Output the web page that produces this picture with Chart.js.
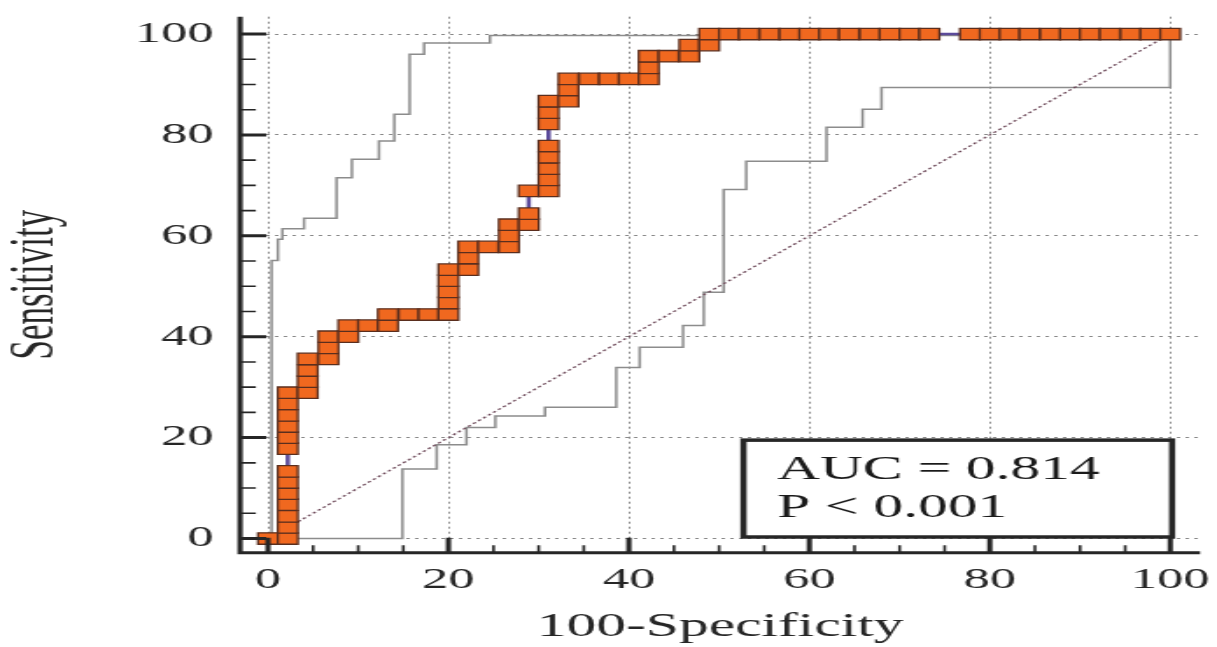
<!DOCTYPE html>
<html>
<head>
<meta charset="utf-8">
<script src="https://cdn.jsdelivr.net/npm/chart.js@4.4.1/dist/chart.umd.min.js"></script>
<style>
    html, body { margin: 0; padding: 0; background: #fff; overflow: hidden; }
    /* the source picture is stretched sideways, so the whole chart is too */
    #wrap { width: 695px; height: 647px; transform: scaleX(1.7511); transform-origin: 0 0; }
</style>
</head>
<body>
<div id="wrap"><canvas id="roc" width="695" height="647"></canvas></div>
<script>
const X_TICKS = [0, 20, 40, 60, 80, 100];
const Y_TICKS = [0, 20, 40, 60, 80, 100];

// ROC curve (100-Specificity, Sensitivity)
const ROC_X = [0, 2.2, 2.2, 2.2, 2.2, 2.2, 2.2, 2.2, 2.2, 2.2, 2.2, 2.2, 2.2, 2.2,
    4.4, 4.4, 4.4, 4.4, 6.7, 6.7, 6.7, 8.9, 8.9, 11.1, 13.3, 13.3, 15.6, 17.8,
    20.0, 20.0, 20.0, 20.0, 20.0, 22.2, 22.2, 22.2, 24.4, 26.7, 26.7, 26.7, 28.9, 28.9, 28.9,
    31.1, 31.1, 31.1, 31.1, 31.1, 31.1, 31.1, 31.1, 33.3, 33.3, 33.3, 35.6, 37.8, 40.0,
    42.2, 42.2, 42.2, 44.4, 46.7, 46.7, 48.9, 48.9,
    51.1, 53.3, 55.6, 57.8, 60.0, 62.2, 64.4, 66.7, 68.9, 71.1, 73.3,
    77.8, 80.0, 82.2, 84.4, 86.7, 88.9, 91.1, 93.3, 95.6, 97.8, 100];
const ROC_Y = [0, 0, 2.2, 4.4, 6.7, 8.9, 11.1, 13.3, 17.8, 20.0, 22.2, 24.4, 26.7, 28.9,
    28.9, 31.1, 33.3, 35.6, 35.6, 37.8, 40.0, 40.0, 42.2, 42.2, 42.2, 44.4, 44.4, 44.4,
    44.4, 46.7, 48.9, 51.1, 53.3, 53.3, 55.6, 57.8, 57.8, 57.8, 60.0, 62.2, 62.2, 64.4, 68.9,
    68.9, 71.1, 73.3, 75.6, 77.8, 82.2, 84.4, 86.7, 86.7, 88.9, 91.1, 91.1, 91.1, 91.1,
    91.1, 93.3, 95.6, 95.6, 95.6, 97.8, 97.8, 100,
    100, 100, 100, 100, 100, 100, 100, 100, 100, 100, 100,
    100, 100, 100, 100, 100, 100, 100, 100, 100, 100, 100];

// confidence bounds
const UPPER_X = [0.4, 0.4, 1.1, 1.1, 1.6, 1.6, 4.0, 4.0, 7.6, 7.6, 9.3, 9.3, 12.3, 12.3,
    14.0, 14.0, 15.7, 15.7, 17.3, 17.3, 24.6, 24.6, 100];
const UPPER_Y = [0, 55.1, 55.1, 59.3, 59.3, 61.4, 61.4, 63.5, 63.5, 71.5, 71.5, 75.2, 75.2, 78.8,
    78.8, 84.1, 84.1, 96.0, 96.0, 98.2, 98.2, 99.7, 99.7];
const LOWER_X = [0, 14.9, 14.9, 18.7, 18.7, 22.0, 22.0, 25.2, 25.2, 30.7, 30.7, 38.6, 38.6,
    41.2, 41.2, 46.0, 46.0, 48.3, 48.3, 50.5, 50.5, 53.0, 53.0, 61.9, 61.9, 65.9, 65.9,
    68.0, 68.0, 100, 100];
const LOWER_Y = [0, 0, 13.8, 13.8, 18.6, 18.6, 22.0, 22.0, 24.3, 24.3, 26.0, 26.0, 33.9,
    33.9, 37.9, 37.9, 42.2, 42.2, 48.8, 48.8, 69.2, 69.2, 74.8, 74.8, 81.5, 81.5, 85.1,
    85.1, 89.4, 89.4, 100];

const DIAG_X = [0, 100];
const DIAG_Y = [0, 100];

const STATS = ['AUC = 0.814', 'P < 0.001'];

const SERIF = "'Liberation Serif', 'Times New Roman', serif";
const INK = '#262626';

function points(xs, ys) {
    return xs.map((x, i) => ({ x: x, y: ys[i] }));
}

// inward tick marks, axis lines and the AUC box
const rocFrame = {
    id: 'rocFrame',
    afterDatasetsDraw(chart) {
        const { ctx, scales: { x, y } } = chart;
        const l = x.getPixelForValue(52.7), r = x.getPixelForValue(100.2);
        const t = y.getPixelForValue(19.5), b = y.getPixelForValue(0.3);
        ctx.save();
        ctx.fillStyle = '#fff';
        ctx.fillRect(l, t, r - l, b - t);
        ctx.strokeStyle = INK;
        ctx.lineWidth = 3.5;
        ctx.strokeRect(l, t, r - l, b - t);
        ctx.fillStyle = '#1a1a1a';
        ctx.font = `34px ${SERIF}`;
        ctx.textAlign = 'left';
        ctx.textBaseline = 'alphabetic';
        ctx.fillText(STATS[0], x.getPixelForValue(56.4), y.getPixelForValue(11.7));
        ctx.fillText(STATS[1], x.getPixelForValue(56.4), y.getPixelForValue(4.2));
        ctx.restore();
    },
    afterDraw(chart) {
        const { ctx, chartArea: a, scales: { x, y } } = chart;
        ctx.save();
        ctx.strokeStyle = INK;
        ctx.lineWidth = 3;
        ctx.beginPath();
        ctx.moveTo(a.left, a.top);
        ctx.lineTo(a.left, a.bottom);
        ctx.lineTo(a.right, a.bottom);
        ctx.stroke();
        for (let v = 0; v <= 100; v += 5) {
            const major = v % 20 === 0;
            const px = x.getPixelForValue(v);
            const py = y.getPixelForValue(v);
            ctx.lineWidth = major ? 3 : 1.6;
            ctx.beginPath();
            ctx.moveTo(px, a.bottom);
            ctx.lineTo(px, a.bottom - (major ? 15 : 7.5));
            ctx.moveTo(a.left, py);
            ctx.lineTo(a.left + (major ? 15 : 9), py);
            ctx.stroke();
        }
        ctx.restore();
    }
};

new Chart(document.getElementById('roc'), {
    type: 'scatter',
    data: {
        datasets: [
            {
                label: 'ROC',
                data: points(ROC_X, ROC_Y),
                showLine: true,
                borderColor: '#5b4a9a',
                borderWidth: 2.5,
                pointStyle: 'rect',
                pointRadius: 8.1,
                pointBackgroundColor: '#f0681f',
                pointBorderColor: '#5a2e1e',
                pointBorderWidth: 1.3,
                order: 0
            },
            {
                label: 'Reference',
                data: points(DIAG_X, DIAG_Y),
                showLine: true,
                borderColor: '#6e4a5a',
                borderWidth: 1.3,
                borderDash: [2, 2],
                pointRadius: 0,
                order: 1
            },
            {
                label: 'Upper',
                data: points(UPPER_X, UPPER_Y),
                showLine: true,
                borderColor: '#8c8c8c',
                borderWidth: 1.5,
                pointRadius: 0,
                order: 2
            },
            {
                label: 'Lower',
                data: points(LOWER_X, LOWER_Y),
                showLine: true,
                borderColor: '#8c8c8c',
                borderWidth: 1.5,
                pointRadius: 0,
                order: 2
            }
        ]
    },
    options: {
        responsive: false,
        maintainAspectRatio: false,
        animation: false,
        events: [],
        layout: { padding: { top: 16.7, right: 9.7, bottom: 0, left: 0 } },
        scales: {
            x: {
                type: 'linear',
                min: -3.09,
                max: 103.3,
                afterBuildTicks: (axis) => { axis.ticks = X_TICKS.map(v => ({ value: v })); },
                afterFit: (axis) => { axis.height = 94.3; axis.paddingLeft = 0; axis.paddingRight = 0; },
                grid: { color: '#8a8a8a', lineWidth: 1, drawTicks: false },
                border: { display: false, dash: [2, 3] },
                ticks: {
                    padding: 9,
                    maxRotation: 0,
                    autoSkip: false,
                    color: INK,
                    font: { family: SERIF, size: 30 }
                },
                title: {
                    display: true,
                    text: '100-Specificity',
                    color: INK,
                    font: { family: SERIF, size: 34 },
                    padding: { top: 0, bottom: 0 }
                }
            },
            y: {
                type: 'linear',
                min: -2.81,
                max: 103.43,
                afterBuildTicks: (axis) => { axis.ticks = Y_TICKS.map(v => ({ value: v })); },
                afterFit: (axis) => { axis.width = 137.1; axis.paddingTop = 0; axis.paddingBottom = 0; },
                grid: { color: '#8a8a8a', lineWidth: 1, drawTicks: false },
                border: { display: false, dash: [2, 3] },
                ticks: {
                    padding: 15,
                    color: INK,
                    font: { family: SERIF, size: 30 }
                },
                title: {
                    display: true,
                    text: 'Sensitivity',
                    color: INK,
                    font: { family: SERIF, size: 35 },
                    padding: { top: 0, bottom: 0 }
                }
            }
        },
        plugins: {
            legend: { display: false },
            tooltip: { enabled: false }
        }
    },
    plugins: [rocFrame]
});
</script>
</body>
</html>
